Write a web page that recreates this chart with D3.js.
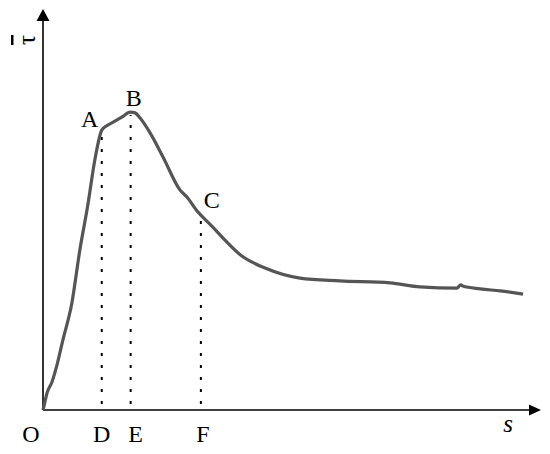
<!DOCTYPE html>
<html>
<head>
<meta charset="utf-8">
<script src="https://cdn.jsdelivr.net/npm/d3@7"></script>
<style>
  body { margin: 0; background: #fff; }
  text { font-family: "Liberation Serif", "Times New Roman", serif; }
</style>
</head>
<body>
<div id="chart"></div>
<script>
// curve (s, tau) in arbitrary 0-100 units
var curve_s   = [0, 0.2, 0.8, 1.8, 2.8, 4.0, 5.8, 7.4, 9.0, 10.4, 11.8, 12.7, 14.1, 15.9, 17.5, 18.5, 19.5, 21.5, 24.1, 27.5, 28.9, 31.1, 31.7, 34.1, 36.5, 39.6, 44.6, 51.6, 59.6, 69.7, 75.7, 83.1, 83.9, 84.3, 87.8, 91.8, 96.4];
var curve_tau = [0, 1.0, 4.2, 7.0, 11.2, 17.5, 26.7, 39.9, 51.1, 62.3, 69.8, 70.8, 71.8, 73.1, 74.3, 74.1, 72.8, 69.1, 63.1, 54.9, 53.1, 49.4, 48.6, 45.6, 42.4, 38.7, 35.4, 32.9, 32.2, 31.7, 30.7, 30.4, 31.2, 30.9, 30.2, 29.7, 28.9];

// labelled points on the curve
var point_names = ["A", "B", "C"];
var point_s     = [11.8, 17.6, 31.7];
var point_tau   = [69.8, 74.3, 48.6];
var foot_names  = ["D", "E", "F"];

var width = 550, height = 454;
var margin = {top: 9, bottom: 44, left: 43, right: 9};

var svg = d3.select("#chart").append("svg")
    .attr("width", width)
    .attr("height", height);

var xScale = d3.scaleLinear()
    .domain([0, 100])
    .range([margin.left, width - margin.right]);

var yScale = d3.scaleLinear()
    .domain([0, 100])
    .range([height - margin.bottom, margin.top]);

var x0 = xScale(0), y0 = yScale(0);

// axes with arrow heads
svg.append("line")
    .attr("x1", x0).attr("y1", y0)
    .attr("x2", x0).attr("y2", yScale(100) + 10)
    .style("stroke", "#000").style("stroke-width", 1.6);
svg.append("line")
    .attr("x1", x0).attr("y1", y0)
    .attr("x2", xScale(100) - 10).attr("y2", y0)
    .style("stroke", "#000").style("stroke-width", 1.6);

svg.append("path")
    .attr("d", "M" + x0 + "," + yScale(100) + " L" + (x0 - 6.5) + "," + (yScale(100) + 12) + " L" + (x0 + 6.5) + "," + (yScale(100) + 12) + "Z")
    .style("fill", "#000");
svg.append("path")
    .attr("d", "M" + xScale(100) + "," + y0 + " L" + (xScale(100) - 12) + "," + (y0 - 5.5) + " L" + (xScale(100) - 12) + "," + (y0 + 5.5) + "Z")
    .style("fill", "#000");

// dotted drops from A, B, C
svg.selectAll(".drop")
    .data(point_s)
  .enter().append("line")
    .attr("class", "drop")
    .attr("x1", function(d) { return xScale(d); })
    .attr("x2", function(d) { return xScale(d); })
    .attr("y1", y0)
    .attr("y2", function(d, i) { return yScale(point_tau[i]) + 3; })
    .style("stroke", "#000")
    .style("stroke-width", 2)
    .style("stroke-dasharray", "0,6,3,3");

var data = curve_s.map(function(s, i) { return [s, curve_tau[i]]; });

var line = d3.line()
    .x(function(d) { return xScale(d[0]); })
    .y(function(d) { return yScale(d[1]); })
    .curve(d3.curveMonotoneX);

svg.append("path")
    .datum(data)
    .attr("d", line)
    .style("fill", "none")
    .style("stroke", "#555")
    .style("stroke-width", 3.2)
    .style("stroke-linejoin", "round");

// labels
var label_dx = [-12, 3, 11], label_dy = [-3, -6, -7];
svg.selectAll(".plabel")
    .data(point_names)
  .enter().append("text")
    .attr("x", function(d, i) { return xScale(point_s[i]) + label_dx[i]; })
    .attr("y", function(d, i) { return yScale(point_tau[i]) + label_dy[i]; })
    .attr("text-anchor", "middle")
    .style("font-size", "24px")
    .text(function(d) { return d; });

var foot_dx = [0, 5, 2];
svg.selectAll(".flabel")
    .data(foot_names)
  .enter().append("text")
    .attr("x", function(d, i) { return xScale(point_s[i]) + foot_dx[i]; })
    .attr("y", y0 + 32)
    .attr("text-anchor", "middle")
    .style("font-size", "24px")
    .text(function(d) { return d; });

svg.append("text")
    .attr("x", x0 - 12)
    .attr("y", y0 + 32)
    .attr("text-anchor", "middle")
    .style("font-size", "24px")
    .text("O");

svg.append("text")
    .attr("x", 508)
    .attr("y", y0 + 22)
    .attr("text-anchor", "middle")
    .style("font-size", "25px")
    .style("font-style", "italic")
    .text("s");

svg.append("text")
    .attr("transform", "translate(35,40) rotate(-90)")
    .attr("text-anchor", "middle")
    .style("font-size", "25px")
    .style("text-decoration", "overline")
    .text("\u03c4");
</script>
</body>
</html>
